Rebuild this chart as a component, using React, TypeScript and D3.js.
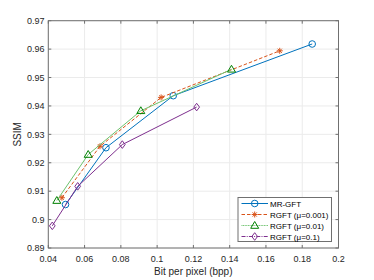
import React from "react";
import * as d3 from "d3";

const seriesNames = ["MR-GFT", "RGFT (μ=0.001)", "RGFT (μ=0.01)", "RGFT (μ=0.1)"];
const mrgftX = [0.0495, 0.0718, 0.1089, 0.1855];
const mrgftY = [0.9053, 0.9253, 0.9436, 0.9618];
const rgft001X = [0.0475, 0.0685, 0.1022, 0.1676];
const rgft001Y = [0.9077, 0.9258, 0.943, 0.9594];
const rgft01X = [0.0447, 0.062, 0.091, 0.141];
const rgft01Y = [0.9067, 0.9229, 0.9383, 0.9529];
const rgft1X = [0.0422, 0.0562, 0.0808, 0.1218];
const rgft1Y = [0.8978, 0.9117, 0.9264, 0.9396];
const xTicks = [0.04, 0.06, 0.08, 0.1, 0.12, 0.14, 0.16, 0.18, 0.2];
const yTicks = [0.89, 0.9, 0.91, 0.92, 0.93, 0.94, 0.95, 0.96, 0.97];

const W = 374, H = 280;
const L = 48.3, R = 338.5, T = 20.7, B = 248;

const styles = [
  { color: "#0072BD", mcolor: "#0072BD", dash: "", legDash: "", marker: "circle" },
  { color: "#D95319", mcolor: "#D95319", dash: "3.5 2", legDash: "3.5 2", marker: "star" },
  { color: "#6DC26D", mcolor: "#008000", dash: "", legDash: "1 0.6", marker: "tri" },
  { color: "#7E2F8E", mcolor: "#7E2F8E", dash: "", legDash: "4 1.2 1 1.2", marker: "diamond" },
];

function Marker({ type, x, y, color }: { type: string; x: number; y: number; color: string }) {
  if (type === "circle") return <circle cx={x} cy={y} r={3.3} fill="none" stroke={color} strokeWidth={1} />;
  if (type === "tri") {
    const s = 4;
    return <path d={`M${x},${y - s}L${x + s},${y + s * 0.7}L${x - s},${y + s * 0.7}Z`} fill="none" stroke={color} strokeWidth={1} />;
  }
  if (type === "diamond") {
    const s = 3.8;
    return <path d={`M${x},${y - s}L${x + s * 0.75},${y}L${x},${y + s}L${x - s * 0.75},${y}Z`} fill="none" stroke={color} strokeWidth={1} />;
  }
  const s = 3;
  return (
    <g stroke={color} strokeWidth={1}>
      <line x1={x - s} y1={y} x2={x + s} y2={y} />
      <line x1={x} y1={y - s} x2={x} y2={y + s} />
      <line x1={x - s * 0.7} y1={y - s * 0.7} x2={x + s * 0.7} y2={y + s * 0.7} />
      <line x1={x - s * 0.7} y1={y + s * 0.7} x2={x + s * 0.7} y2={y - s * 0.7} />
    </g>
  );
}

export default function App() {
  const x = d3.scaleLinear().domain([0.04, 0.2]).range([L, R]);
  const y = d3.scaleLinear().domain([0.89, 0.97]).range([B, T]);
  const data = [
    [mrgftX, mrgftY],
    [rgft001X, rgft001Y],
    [rgft01X, rgft01Y],
    [rgft1X, rgft1Y],
  ];
  const line = d3.line<[number, number]>().x((d) => x(d[0])).y((d) => y(d[1]));
  const font = "'Liberation Sans', Arial, sans-serif";
  const tl = 3;
  const legX = 238, legY = 197.5, legW = 93.5, legH = 44;
  return (
    <svg width={W} height={H} style={{ position: "absolute", left: 0, top: 0, background: "#fff" }} fontFamily={font}>
      <rect x={L} y={T} width={R - L} height={B - T} fill="#fff" />
      {xTicks.map((t) => (
        <line key={"gx" + t} x1={x(t)} x2={x(t)} y1={T} y2={B} stroke="#ebebeb" strokeWidth={1} />
      ))}
      {yTicks.map((t) => (
        <line key={"gy" + t} x1={L} x2={R} y1={y(t)} y2={y(t)} stroke="#ebebeb" strokeWidth={1} />
      ))}
      {data.map((d, i) => {
        const pts = d[0].map((v, j) => [v, d[1][j]] as [number, number]);
        return (
          <g key={i}>
            <path d={line(pts) || ""} fill="none" stroke={styles[i].color} strokeWidth={1} strokeDasharray={styles[i].dash} />
            {pts.map((p, j) => (
              <Marker key={j} type={styles[i].marker} x={x(p[0])} y={y(p[1])} color={styles[i].mcolor} />
            ))}
          </g>
        );
      })}
      <rect x={L} y={T} width={R - L} height={B - T} fill="none" stroke="#707070" strokeWidth={1} />
      {xTicks.map((t) => (
        <g key={"tx" + t}>
          <line x1={x(t)} x2={x(t)} y1={B} y2={B - tl} stroke="#707070" />
          <line x1={x(t)} x2={x(t)} y1={T} y2={T + tl} stroke="#707070" />
          <text x={x(t)} y={261.5} fontSize={9} textAnchor="middle" fill="#262626">{String(t)}</text>
        </g>
      ))}
      {yTicks.map((t) => (
        <g key={"ty" + t}>
          <line x1={L} x2={L + tl} y1={y(t)} y2={y(t)} stroke="#707070" />
          <line x1={R} x2={R - tl} y1={y(t)} y2={y(t)} stroke="#707070" />
          <text x={44.5} y={y(t) + 3.2} fontSize={9} textAnchor="end" fill="#262626">{String(t)}</text>
        </g>
      ))}
      <text x={193.3} y={275} fontSize={10} textAnchor="middle" fill="#262626">Bit per pixel (bpp)</text>
      <text transform={`translate(21,${(T + B) / 2}) rotate(-90)`} fontSize={10} textAnchor="middle" fill="#262626">SSIM</text>
      <rect x={legX} y={legY} width={legW} height={legH} fill="#fff" stroke="#707070" strokeWidth={1} />
      {seriesNames.map((n, i) => {
        const ry = 203.5 + i * 11;
        return (
          <g key={n}>
            <line x1={241.5} x2={268} y1={ry} y2={ry} stroke={styles[i].color} strokeWidth={1} strokeDasharray={styles[i].legDash} />
            <Marker type={styles[i].marker} x={254.7} y={ry} color={styles[i].mcolor} />
            <text x={270} y={ry + 3} fontSize={8} fill="#000">{n}</text>
          </g>
        );
      })}
    </svg>
  );
}
